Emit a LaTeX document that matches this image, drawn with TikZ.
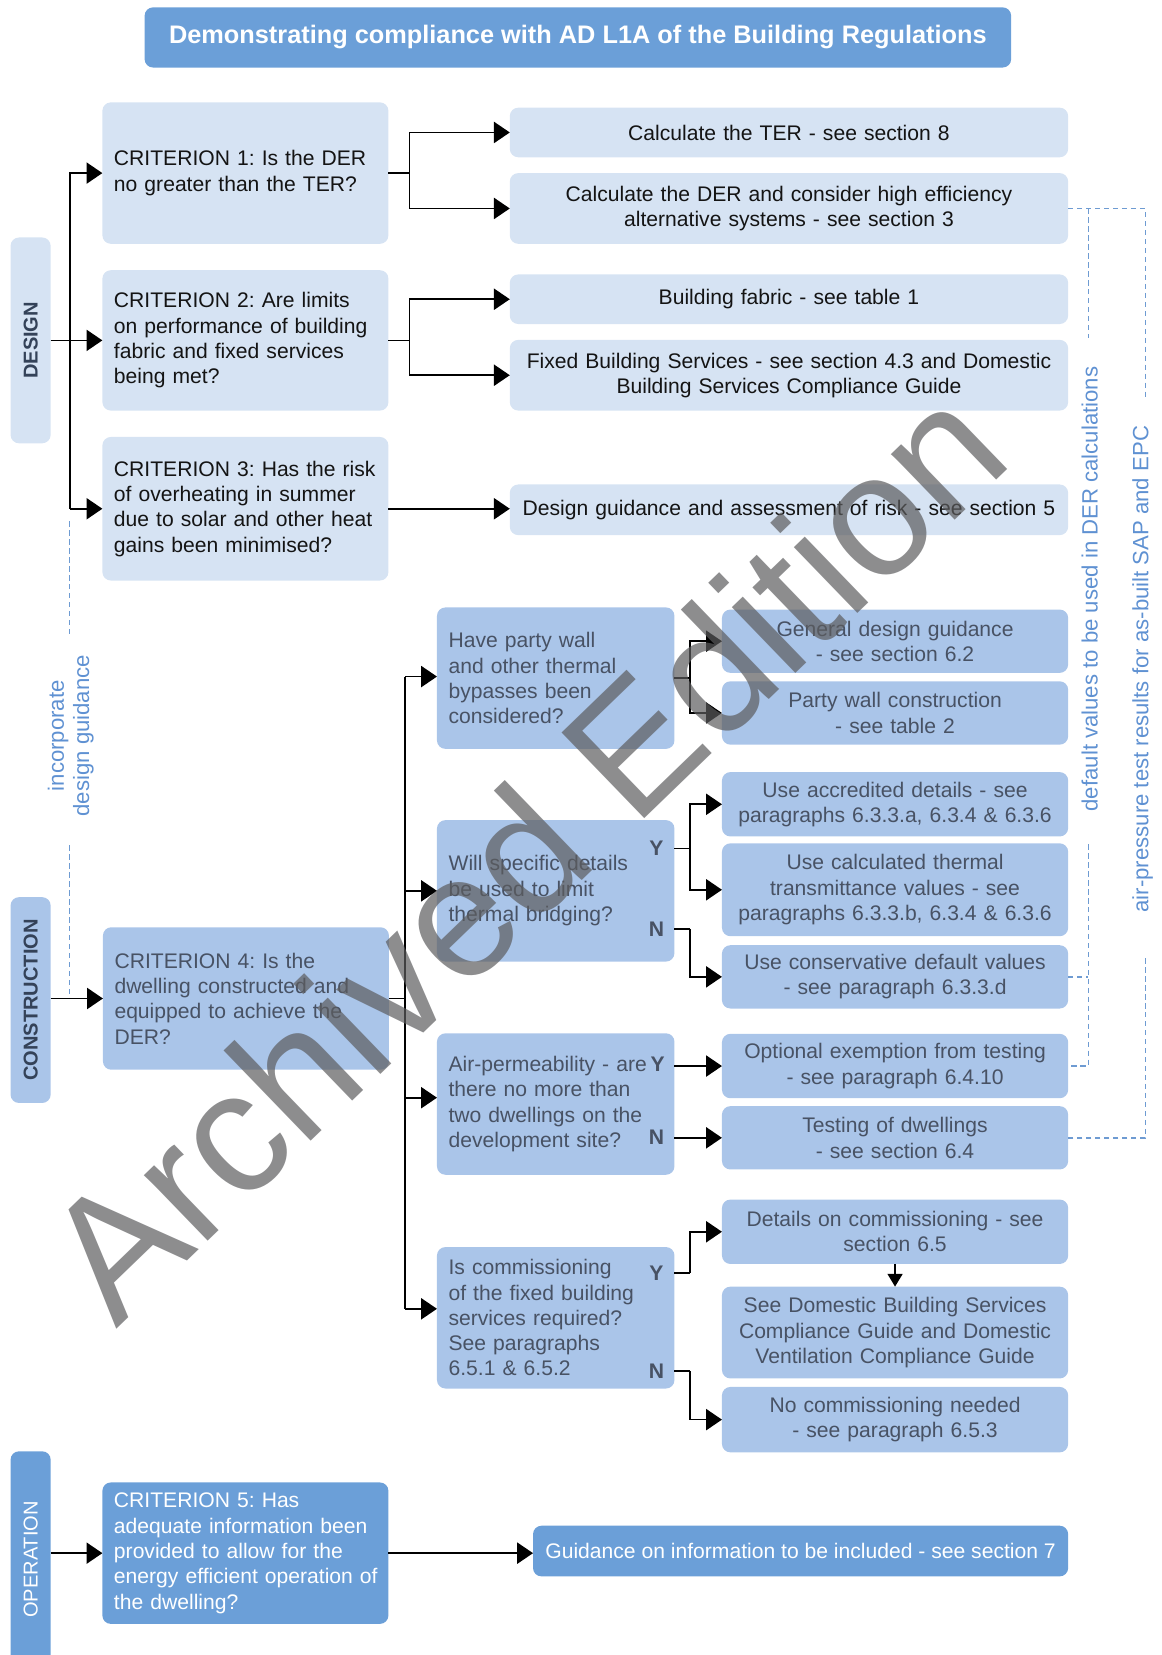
\documentclass[tikz,border=0pt]{standalone}
\usepackage{fontspec}
\setmainfont{Liberation Sans}
\usetikzlibrary{arrows.meta,calc}
\definecolor{lightbl}{RGB}{214,227,243}
\definecolor{midbl}{RGB}{170,197,233}
\definecolor{darkbl}{RGB}{107,159,216}
\definecolor{dashbl}{RGB}{110,155,210}
\definecolor{labbl}{RGB}{95,145,210}
\definecolor{midtxt}{RGB}{72,82,100}
\definecolor{darktxt}{RGB}{20,20,20}
\definecolor{stagetxt}{RGB}{52,66,88}
\definecolor{wmgray}{RGB}{92,92,94}
\frenchspacing
\begin{document}
\frenchspacing
\begin{tikzpicture}[x=1pt,y=-1pt,
  every node/.style={inner sep=0pt,outer sep=0pt},
  basebox/.style={rounded corners=8pt,font=\fontsize{20}{24}\selectfont},
  crit/.style={basebox,minimum width=271pt,text width=249pt,align=left,inner xsep=11pt},
  lightcrit/.style={crit,fill=lightbl,text=darktxt},
  dright/.style={basebox,fill=lightbl,text=darktxt,minimum width=529pt,text width=509pt,align=center,inner xsep=10pt},
  subq/.style={basebox,fill=midbl,text=midtxt,minimum width=225pt,minimum height=134pt,text width=203pt,align=left,inner xsep=11pt},
  cright/.style={basebox,fill=midbl,text=midtxt,minimum width=328pt,text width=308pt,align=center,inner xsep=10pt},
  stagebar/.style={rounded corners=8pt,rotate=90,minimum height=38pt,font=\bfseries\fontsize{19}{22}\selectfont},
  yn/.style={font=\bfseries\fontsize{20}{24}\selectfont,text=midtxt},
  blabel/.style={font=\fontsize{21}{24}\selectfont,text=labbl},
  conn/.style={line width=1.6pt,draw=black},
  arr/.style={conn,-{Triangle[length=15pt,width=20pt]}},
  smallarr/.style={conn,-{Triangle[length=12pt,width=14pt]}},
  dashl/.style={draw=dashbl,line width=1.3pt,dash pattern=on 5pt off 3.5pt}
]
\useasboundingbox (0,0) rectangle (1100,1568);

% title
\node[fill=darkbl,rounded corners=8pt,minimum width=821pt,minimum height=57pt,text=white,font=\bfseries\fontsize{24}{28}\selectfont] (title) at (547.5,35.5) {Demonstrating compliance with AD L1A of the Building Regulations};

% stage bars
\node[stagebar,fill=lightbl,text=stagetxt,minimum width=195pt] (design) at (29,322.5) {DESIGN};
\node[stagebar,fill=midbl,text=stagetxt,minimum width=195pt] (constr) at (29,947.5) {CONSTRUCTION};
\node[stagebar,fill=darkbl,text=white,minimum width=205pt,font=\fontsize{19}{22}\selectfont] (oper) at (29,1477.5) {OPERATION};

% design column
\node[lightcrit,minimum height=134pt] (crit1) at (232.5,164) {CRITERION 1: Is the DER\\no greater than the TER?};
\node[lightcrit,minimum height=133pt] (crit2) at (232.5,322.5) {CRITERION 2: Are limits\\\mbox{on performance of building}\\fabric and fixed services\\being met?};
\node[lightcrit,minimum height=136pt] (crit3) at (232.5,482) {\mbox{CRITERION 3: Has the risk}\\of overheating in summer\\\mbox{due to solar and other heat}\\gains been minimised?};

\node[dright,minimum height=47pt] (ter) at (747.5,125.5) {Calculate the TER - see section 8};
\node[dright,minimum height=67pt] (der) at (747.5,197.5) {Calculate the DER and consider high efficiency\\alternative systems - see section 3};
\node[dright,minimum height=47pt] (fab) at (747.5,283.5) {Building fabric - see table 1};
\node[dright,minimum height=67pt] (fbs) at (747.5,355.5) {Fixed Building Services - see section 4.3 and Domestic\\Building Services Compliance Guide};
\node[dright,minimum height=48pt] (dg) at (747.5,483) {Design guidance and assessment of risk - see section 5};

% construction column
\node[crit,fill=midbl,text=midtxt,minimum height=135pt] (crit4) at (233,946) {CRITERION 4: Is the\\dwelling constructed and\\equipped to achieve the\\DER?};

\node[subq] (pw) at (526.5,642.5) {Have party wall\\and other thermal\\bypasses been\\considered?};
\node[subq] (sd) at (526.5,844) {Will specific details\\be used to limit\\thermal bridging?};
\node[subq] (ap) at (526.5,1046) {\mbox{Air-permeability - are}\\there no more than\\two dwellings on the\\development site?};
\node[subq] (cm) at (526.5,1248.5) {Is commissioning\\of the fixed building\\services required?\\See paragraphs\\6.5.1 \& 6.5.2};

\node[yn] (ysd) at (622,804) {Y};
\node[yn] (nsd) at (622,880) {N};
\node[yn] (yap) at (623,1008) {Y};
\node[yn] (nap) at (622,1077) {N};
\node[yn] (ycm) at (622,1206) {Y};
\node[yn] (ncm) at (622,1299) {N};

\node[cright,minimum height=60pt] (gd) at (848,607.5) {General design guidance\\- see section 6.2};
\node[cright,minimum height=60pt] (pwc) at (848,675.5) {Party wall construction\\- see table 2};
\node[cright,minimum height=61pt] (acc) at (848,762) {Use accredited details - see\\paragraphs 6.3.3.a, 6.3.4 \& 6.3.6};
\node[cright,minimum height=88pt] (calc) at (848,843) {Use calculated thermal\\transmittance values - see\\paragraphs 6.3.3.b, 6.3.4 \& 6.3.6};
\node[cright,minimum height=60pt] (cons) at (848,925.5) {Use conservative default values\\- see paragraph 6.3.3.d};
\node[cright,minimum height=61pt] (opt) at (848,1010) {Optional exemption from testing\\- see paragraph 6.4.10};
\node[cright,minimum height=60pt] (test) at (848,1078) {Testing of dwellings\\- see section 6.4};
\node[cright,minimum height=61pt] (det) at (848,1167) {Details on commissioning - see\\section 6.5};
\node[cright,minimum height=87pt] (dom) at (848,1262.5) {See Domestic Building Services\\Compliance Guide and Domestic\\Ventilation Compliance Guide};
\node[cright,minimum height=62pt] (nocm) at (848,1345) {No commissioning needed\\- see paragraph 6.5.3};

% operation
\node[crit,fill=darkbl,text=white,minimum height=134pt] (crit5) at (232.5,1471.5) {CRITERION 5: Has\\adequate information been\\provided to allow for the\\\mbox{energy efficient operation of}\\the dwelling?};
\node[basebox,fill=darkbl,text=white,minimum width=507pt,minimum height=48pt] (guid) at (758.5,1469.5) {Guidance on information to be included - see section 7};

% blue labels
\node[blabel,rotate=90,align=center] (incorp) at (67,697) {incorporate\\design guidance};
\node[blabel,rotate=90,anchor=base] (defv) at (1040,558) {default values to be used in DER calculations};
\node[blabel,rotate=90,anchor=base] (airp) at (1088,634) {air-pressure test results for as-built SAP and EPC};

% ---- connectors: design
\coordinate (td3) at (66,482);
\draw[arr] (td3) |- (crit1.west);
\draw[arr] (td3) -- (crit3.west);
\draw[arr] (design.south) -- (crit2.west);
\coordinate (j1) at (388,164);
\draw[conn] (crit1.east) -- (j1);
\draw[arr] (j1) |- (ter.west);
\draw[arr] (j1) |- (der.west);
\coordinate (j2) at (388,322.5);
\draw[conn] (crit2.east) -- (j2);
\draw[arr] (j2) |- (fab.west);
\draw[arr] (j2) |- (fbs.west);
\draw[arr] (crit3.east) -- (crit3.east -| dg.west);

% dashed incorporate design guidance
\coordinate (dg1) at (66,494);
\coordinate (dg2) at (66,602);
\coordinate (dg3) at (66,801);
\draw[dashl] (dg1) -- (dg2);
\draw[dashl] (dg3) -- (dg3 |- crit4.west);

% ---- connectors: construction
\draw[arr] (constr.south |- crit4.west) -- (crit4.west);
\coordinate (tc1) at (384,641);
\coordinate (tc3) at (384,1040);
\coordinate (tc4) at (384,1240);
\draw[conn] (tc1) -- (tc4);
\draw[conn] (crit4.east) -- (crit4.east -| tc1);
\draw[arr] (tc1) -- (tc1 -| pw.west);
\draw[arr] (tc1 |- sd.west) -- (sd.west);
\draw[arr] (tc3) -- (tc3 -| ap.west);
\draw[arr] (tc4) -- (tc4 -| cm.west);

\draw[conn] (pw.east) -- ++(15,0) coordinate (jpw);
\draw[arr] (jpw) |- (gd.west);
\draw[arr] (jpw) |- (pwc.west);

\draw[conn] (sd.east |- ysd) -- ++(15,0) coordinate (jsy);
\draw[arr] (jsy) |- (acc.west);
\draw[arr] (jsy) |- (calc.west);
\draw[conn] (sd.east |- nsd) -- ++(15,0) coordinate (jsn);
\draw[arr] (jsn) |- (cons.west);

\draw[arr] (ap.east |- opt.west) -- (opt.west);
\draw[arr] (ap.east |- test.west) -- (test.west);

\draw[conn] (cm.east |- ycm) -- ++(15,0) coordinate (jcy);
\draw[arr] (jcy) |- (det.west);
\draw[conn] (cm.east |- ncm) -- ++(15,0) coordinate (jcn);
\draw[arr] (jcn) |- (nocm.west);
\draw[smallarr] (det.south) -- (dom.north);

% ---- connectors: operation
\draw[arr] (oper.south |- crit5.west) -- (crit5.west);
\draw[arr] (crit5.east) -- (crit5.east -| guid.west);

% ---- right dashed lines
\coordinate (dr1) at (1031,197.5);
\coordinate (dr2) at (1085,197.5);
\coordinate (dr3) at (1085,379);
\coordinate (dr4) at (1031,320);
\draw[dashl] (der.east) -- (dr2) -- (dr3);
\draw[dashl] (dr1) -- (dr4);
\coordinate (dr5) at (1031,800);
\draw[dashl] (dr5) |- (opt.east);
\draw[dashl] (cons.east) -- (cons.east -| dr5);
\coordinate (dr6) at (1085,908);
\draw[dashl] (dr6) |- (test.east);

% watermark
\node[rotate=44,anchor=base west,font=\fontsize{164}{164}\selectfont,text=wmgray,opacity=0.7] (wm) at (110,1260) {Archived Edition};
\end{tikzpicture}
\end{document}
